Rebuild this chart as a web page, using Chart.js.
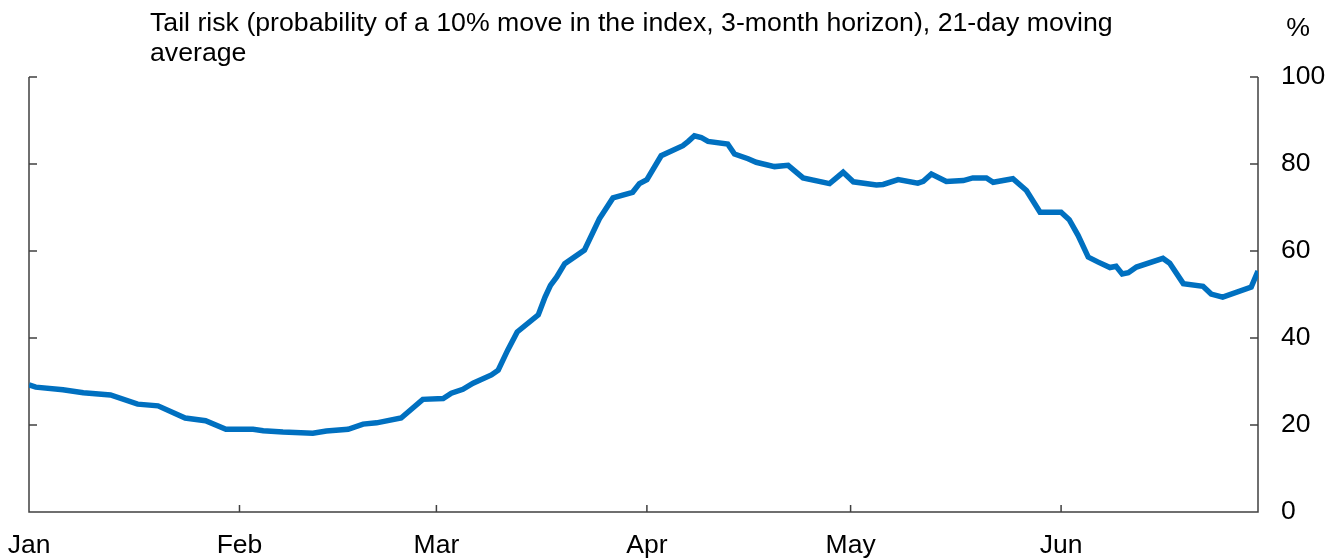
<!DOCTYPE html>
<html>
<head>
<meta charset="utf-8">
<script src="https://cdn.jsdelivr.net/npm/chart.js@4.4.1/dist/chart.umd.min.js"></script>
<style>
  html, body { margin: 0; padding: 0; background: #fff; }
  #wrap { width: 1339px; height: 558px; position: relative; }
</style>
</head>
<body>
<div id="wrap"><canvas id="c"></canvas></div>
<script>
/* ===== Tail risk, 21-day moving average ===== */
const TITLE = ['Tail risk (probability of a 10% move in the index, 3-month horizon), 21-day moving', 'average'];
const UNIT = '%';
const MONTHS = ['Jan', 'Feb', 'Mar', 'Apr', 'May', 'Jun'];
const MONTH_START = [0, 31, 60, 91, 121, 152];   // day of year (leap year)
const Y_TICKS = [0, 20, 40, 60, 80, 100];

// day of year (0 = 1 Jan) and value in %
const DAY = [0, 1, 5, 8, 12, 16, 19, 23, 26, 29, 33, 34.5, 37.4, 41.8, 43.8, 47, 49.2, 51.2, 54.8, 58, 61, 62.2, 63.9, 65.4,
  68.1, 69.1, 70.5, 71.9, 75, 76, 76.8, 77.7, 78.9, 81.8, 84, 86, 88.9, 89.9, 91, 93.1, 96.3, 97.1, 98, 99, 100, 102.9,
  103.9, 105.9, 107.1, 109.8, 111.8, 114, 117.9, 119.9, 121.4, 124.8, 125.8, 128, 130.9, 131.7, 132.9, 135.1, 137.6,
  139, 141, 142, 144.9, 146.9, 148.9, 152, 153.2, 154.5, 156, 157.4, 159.2, 160.1, 161, 161.9, 163.1, 167, 168, 170,
  172.9, 174.1, 175.8, 180, 181];
const RISK = [29.2, 28.7, 28.1, 27.4, 26.9, 24.8, 24.4, 21.6, 21.0, 19.0, 19.0, 18.7, 18.4, 18.1, 18.6, 19.0, 20.2, 20.5,
  21.6, 25.9, 26.1, 27.3, 28.2, 29.6, 31.5, 32.6, 37.2, 41.4, 45.3, 49.4, 52.1, 54.0, 57.1, 60.2, 67.4, 72.2, 73.5,
  75.5, 76.4, 81.9, 84.2, 85.2, 86.5, 86.1, 85.2, 84.6, 82.3, 81.2, 80.4, 79.4, 79.7, 76.8, 75.5, 78.1, 75.9, 75.2,
  75.3, 76.4, 75.6, 76.0, 77.7, 76.0, 76.2, 76.8, 76.8, 75.8, 76.6, 73.9, 68.9, 68.9, 67.2, 63.6, 58.6, 57.5, 56.2,
  56.5, 54.7, 55.0, 56.3, 58.3, 57.2, 52.5, 51.9, 50.1, 49.4, 51.7, 55.4];

const FONT = 'Arial, "Liberation Sans", sans-serif';
const AXIS = '#404040';

// Achsenlinien + nach innen zeigende Ticks
const frame = {
  id: 'frame',
  beforeDatasetsDraw(c) {
    const { ctx, chartArea: a, scales: { x, y } } = c;
    ctx.save();
    ctx.strokeStyle = AXIS; ctx.lineWidth = 1.5;
    ctx.beginPath();
    ctx.moveTo(a.left, a.top); ctx.lineTo(a.left, a.bottom); ctx.lineTo(a.right, a.bottom); ctx.lineTo(a.right, a.top);
    Y_TICKS.forEach(v => {
      const py = y.getPixelForValue(v);
      ctx.moveTo(a.left, py); ctx.lineTo(a.left + 8, py);
      ctx.moveTo(a.right, py); ctx.lineTo(a.right - 8, py);
    });
    MONTH_START.forEach(v => {
      const px = x.getPixelForValue(v);
      ctx.moveTo(px, a.bottom); ctx.lineTo(px, a.bottom - 7);
    });
    ctx.stroke();
    ctx.restore();
  },
  afterDraw(c) {
    const { ctx } = c;
    ctx.save();
    ctx.fillStyle = '#000'; ctx.font = '26.7px ' + FONT; ctx.textBaseline = 'middle';
    TITLE.forEach((t, i) => ctx.fillText(t, 150, 24 + i * 30));
    ctx.textAlign = 'center';
    ctx.fillText(UNIT, 1298, 29);
    ctx.restore();
  },
};

new Chart(document.getElementById('c'), {
  type: 'line',
  data: {
    datasets: [{
      data: DAY.map((d, i) => ({ x: d, y: RISK[i] })),
      borderColor: '#0070C0', borderWidth: 5.5, pointRadius: 0, tension: 0, fill: false,
    }],
  },
  options: {
    responsive: true, maintainAspectRatio: false, animation: false,
    layout: { padding: { left: 29, top: 77, right: 0, bottom: 0 } },
    plugins: { legend: { display: false }, tooltip: { enabled: false } },
    scales: {
      x: {
        type: 'linear', min: 0, max: 181,
        afterBuildTicks: s => { s.ticks = MONTH_START.map(v => ({ value: v })); },
        afterFit: s => { s.height = 46; s.paddingLeft = 0; s.paddingRight = 0; },
        grid: { display: false, drawTicks: false }, border: { display: false },
        ticks: { autoSkip: false, maxRotation: 0, padding: 18, color: '#000', font: { size: 26.5, family: FONT },
          callback: v => MONTHS[MONTH_START.indexOf(v)] },
      },
      y: {
        position: 'right', min: 0, max: 100,
        afterBuildTicks: s => { s.ticks = Y_TICKS.map(v => ({ value: v })); },
        afterFit: s => { s.width = 81; s.paddingTop = 0; s.paddingBottom = 0; },
        grid: { display: false, drawTicks: false }, border: { display: false },
        ticks: { padding: 23, color: '#000', font: { size: 26.5, family: FONT } },
      },
    },
  },
  plugins: [frame],
});
</script>
</body>
</html>
